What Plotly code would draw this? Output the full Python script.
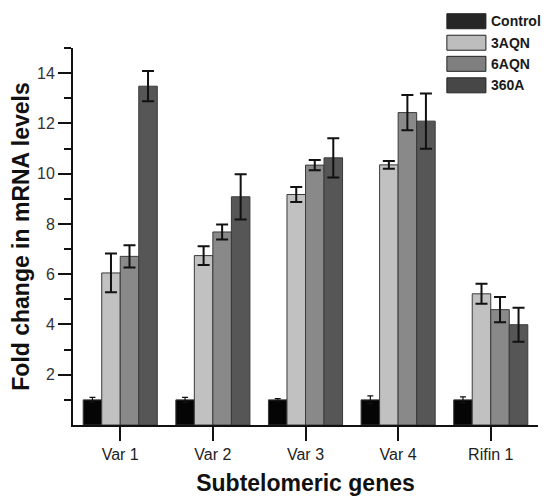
import plotly.graph_objects as go

categories = ["Var 1", "Var 2", "Var 3", "Var 4", "Rifin 1"]
series_names = ["Control", "3AQN", "6AQN", "360A"]
control = [1.0, 1.0, 1.0, 1.0, 1.0]
control_err = [0.1, 0.1, 0.05, 0.16, 0.12]
aqn3 = [6.05, 6.74, 9.17, 10.35, 5.22]
aqn3_err = [0.77, 0.37, 0.3, 0.15, 0.4]
aqn6 = [6.71, 7.68, 10.34, 12.43, 4.59]
aqn6_err = [0.44, 0.3, 0.2, 0.7, 0.5]
a360 = [13.48, 9.08, 10.63, 12.09, 3.99]
a360_err = [0.6, 0.9, 0.78, 1.1, 0.68]

values = [control, aqn3, aqn6, a360]
errors = [control_err, aqn3_err, aqn6_err, a360_err]
colors = ["#050505", "#c1c1c1", "#898989", "#565656"]
legend_colors = ["#262626", "#bdbdbd", "#7f7f7f", "#474747"]

FONT = "Liberation Sans, Arial, sans-serif"

fig = go.Figure()
for i, name in enumerate(series_names):
    fig.add_trace(go.Bar(
        name=name, x=categories, y=values[i],
        marker=dict(color=colors[i], line=dict(color="#3a3a3a", width=1)),
        error_y=dict(type="data", array=errors[i], visible=True,
                     color="#111111",
                     thickness=1.2 if i == 0 else 2,
                     width=3 if i == 0 else 6),
        showlegend=False,
    ))

# custom legend with large boxes (paper coordinates)
leg_y = [1.071, 1.014, 0.958, 0.901]
for i, name in enumerate(series_names):
    yc = leg_y[i]
    fig.add_shape(type="rect", xref="paper", yref="paper",
                  x0=0.804, x1=0.888, y0=yc - 0.0199, y1=yc + 0.0199,
                  fillcolor=legend_colors[i], line=dict(color="#222222", width=1))
    fig.add_annotation(xref="paper", yref="paper", x=0.897, y=yc,
                       text="<b>" + name + "</b>", showarrow=False,
                       xanchor="left", yanchor="middle", borderpad=0,
                       font=dict(family=FONT, size=14, color="#1a1a1a"))

fig.update_layout(
    width=542, height=488,
    margin=dict(l=65, r=12, t=40, b=71),
    paper_bgcolor="white", plot_bgcolor="white",
    barmode="group", bargap=0.2, bargroupgap=0,
    font=dict(family=FONT, color="#222222"),
)
fig.update_xaxes(
    range=[-0.51, 4.51], showline=True, linecolor="#111111", linewidth=2,
    ticks="outside", ticklen=14, tickwidth=2, tickcolor="#111111",
    tickfont=dict(size=16, family=FONT, color="#222222"),
    title=dict(text="<b>Subtelomeric genes</b>", font=dict(size=23, family=FONT, color="#111111"),
               standoff=23),
    showgrid=False, zeroline=False, automargin=False,
)
fig.update_yaxes(
    range=[0, 15], showline=True, linecolor="#111111", linewidth=2,
    tickmode="array", tickvals=[2, 4, 6, 8, 10, 12, 14],
    ticks="outside", ticklen=13, tickwidth=2, tickcolor="#111111",
    tickfont=dict(size=16, family=FONT, color="#333333"),
    minor=dict(tickmode="array", tickvals=[1, 3, 5, 7, 9, 11, 13, 15],
               ticks="outside", ticklen=7, tickwidth=2, tickcolor="#111111", showgrid=False),
    title=dict(text="<b>Fold change in mRNA levels</b>", font=dict(size=23, family=FONT, color="#111111"),
               standoff=4),
    showgrid=False, zeroline=False, automargin=False,
)

fig.write_html("out.html")
